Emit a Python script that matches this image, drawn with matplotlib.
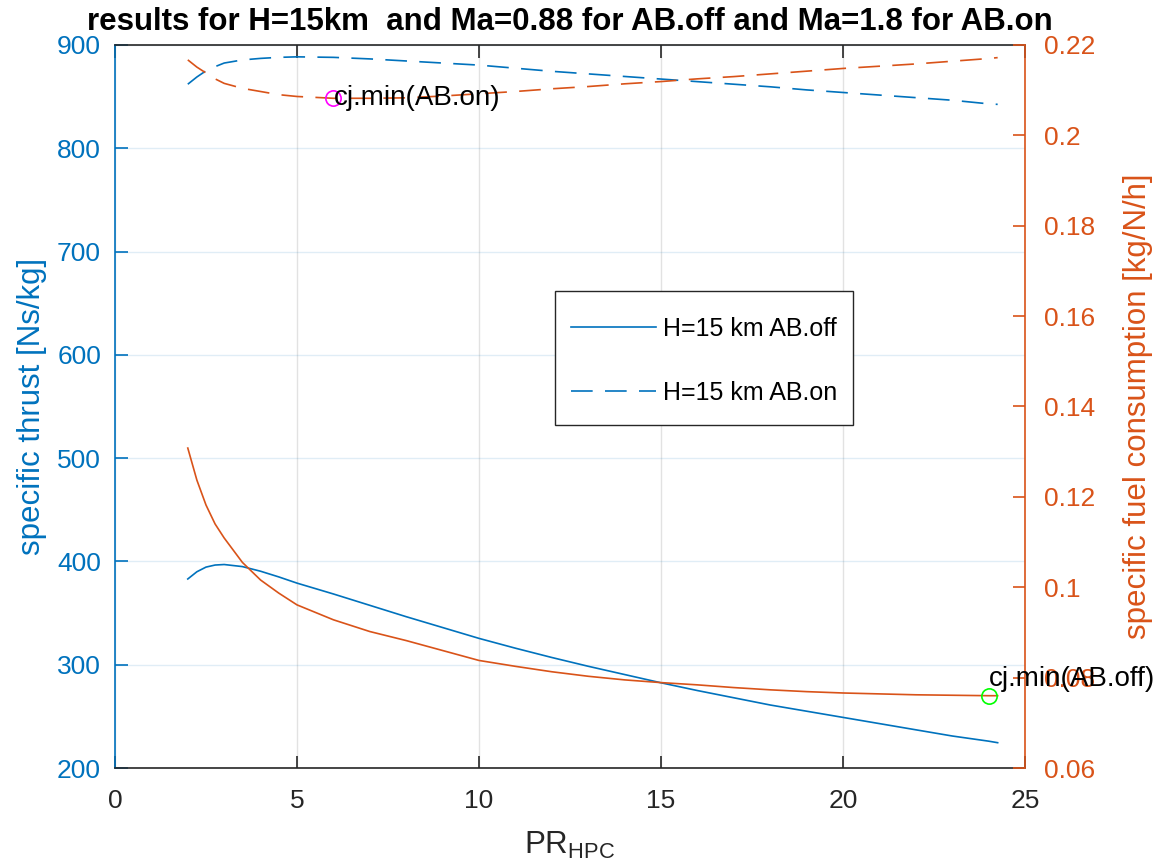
import matplotlib
matplotlib.use("Agg")
import matplotlib.pyplot as plt
from matplotlib.patches import Rectangle
import numpy as np

plt.rcParams['font.family'] = ['Liberation Sans', 'DejaVu Sans']
plt.rcParams['mathtext.fontset'] = 'custom'
plt.rcParams['mathtext.rm'] = 'Liberation Sans'

# pressure ratio of the HPC
pr_hpc = [2, 2.25, 2.5, 2.75, 3, 3.5, 4, 4.5, 5, 6, 7, 8, 9, 10, 11, 12, 13, 14,
          15, 16, 17, 18, 19, 20, 21, 22, 23, 24, 24.25]

# specific thrust [Ns/kg]
thrust_off = [383, 390, 394.5, 396.5, 397, 395, 390.5, 385, 379, 368.5, 357.5, 346.5,
              336, 325.5, 316, 307, 298.5, 290.5, 282.5, 275, 268, 261, 255, 249,
              243, 237, 231, 226, 224.5]
thrust_on = [862, 869, 875, 879, 882.5, 885.5, 887, 888, 888.5, 888, 886.5, 884.5,
             882.5, 880.5, 877.5, 874.5, 872, 869.5, 867, 864.5, 862, 859.5, 856.5,
             854, 851.5, 849, 846.5, 843, 842.5]

# specific fuel consumption [kg/N/h]
sfc_off = [0.1308, 0.1237, 0.1182, 0.1140, 0.1109, 0.1055, 0.1016, 0.0987, 0.0961,
           0.0928, 0.0902, 0.0882, 0.0860, 0.0838, 0.0825, 0.0813, 0.0803, 0.0795,
           0.0789, 0.0784, 0.0778, 0.0773, 0.0769, 0.0766, 0.0764, 0.0762, 0.0761,
           0.0760, 0.0760]
sfc_on = [0.2167, 0.2151, 0.2138, 0.2125, 0.2115, 0.2104, 0.2097, 0.2090, 0.2086,
          0.2082, 0.2082, 0.2083, 0.2087, 0.2092, 0.2097, 0.2103, 0.2108, 0.2114,
          0.2119, 0.2125, 0.2130, 0.2136, 0.2142, 0.2148, 0.2153, 0.2158, 0.2164,
          0.2170, 0.2172]

legend_labels = ['H=15 km AB.off', 'H=15 km AB.on']
title_text = 'results for H=15km  and Ma=0.88 for AB.off and Ma=1.8 for AB.on'

BLUE = '#0072BD'
ORANGE = '#D95319'
DARK = '#262626'
TFS = 19     # tick labels
LFS = 22.5   # axis labels

fig = plt.figure(figsize=(11.58, 8.68), dpi=100)
ax = fig.add_axes([0.0993, 0.1152, 0.7858, 0.833])
ax2 = ax.twinx()

dash = (0, (13, 7.4))
lw = 1.2
l1, = ax.plot(pr_hpc, thrust_off, color=BLUE, lw=lw, label=legend_labels[0])
l2, = ax.plot(pr_hpc, thrust_on, color=BLUE, lw=lw, ls=dash, label=legend_labels[1])
ax2.plot(pr_hpc, sfc_off, color=ORANGE, lw=lw)
ax2.plot(pr_hpc, sfc_on, color=ORANGE, lw=lw, ls=dash)

# minima markers
i_on = int(np.argmin(sfc_on[:12]))
i_off = 27
ax2.plot(pr_hpc[i_on], sfc_on[i_on], 'o', mfc='none', mec='#FF00FF', ms=11, mew=1.2)
ax2.plot(pr_hpc[i_off], sfc_off[i_off], 'o', mfc='none', mec='#00FF00', ms=11, mew=1.2)
ax2.text(pr_hpc[i_on], sfc_on[i_on], 'cj.min(AB.on)', fontsize=20, va='center', ha='left',
         color='black')
ax2.text(pr_hpc[i_off], sfc_off[i_off] + 0.0038, 'cj.min(AB.off)', fontsize=20,
         va='center', ha='left', color='black', clip_on=False)

ax.set_xlim(0, 25)
ax.set_ylim(200, 900)
ax2.set_ylim(0.06, 0.22)
ax.set_xticks(np.arange(0, 26, 5))
ax.set_yticks(np.arange(200, 901, 100))
ax2.set_yticks(np.arange(0.06, 0.2201, 0.02))
ax2.set_yticklabels(['0.06', '0.08', '0.1', '0.12', '0.14', '0.16', '0.18', '0.2', '0.22'])

ax.grid(True, axis='x', color=DARK, alpha=0.13, lw=1)
ax.grid(True, axis='y', color=BLUE, alpha=0.12, lw=1)
ax.set_axisbelow(True)

for s in ['top', 'bottom']:
    ax.spines[s].set_color(DARK)
    ax2.spines[s].set_visible(False)
ax.spines['left'].set_color(BLUE)
ax.spines['right'].set_visible(False)
ax2.spines['right'].set_color(ORANGE)
ax2.spines['left'].set_visible(False)
for sp in list(ax.spines.values()) + list(ax2.spines.values()):
    sp.set_linewidth(1.2)

ax.tick_params(axis='x', direction='in', length=9, width=1.2, colors=DARK,
               labelsize=TFS, top=True, pad=15)
ax.tick_params(axis='y', direction='in', length=9, width=1.2, colors=BLUE,
               labelsize=TFS, pad=10)
ax2.tick_params(axis='y', direction='in', length=9, width=1.2, colors=ORANGE,
                labelsize=TFS, pad=14)

ax.set_xlabel(r'PR$_{\mathregular{HPC}}$', fontsize=LFS, color=DARK)
ax.set_ylabel('specific thrust [Ns/kg]', fontsize=LFS, color=BLUE)
ax2.set_ylabel('specific fuel consumption [kg/N/h]', fontsize=LFS, color=ORANGE)
ax.xaxis.set_label_coords(0.5, -0.085)
ax.yaxis.set_label_coords(-0.075, 0.5)
ax2.yaxis.set_label_coords(1.108, 0.5)
ax.set_title(title_text, fontsize=22.5, fontweight='bold', color='black', pad=11)

# legend box (white frame) and legend entries
bx0, bx1 = 0.4835, 0.811
by0, by1 = 0.4744, 0.6598
ax2.add_patch(Rectangle((bx0, by0), bx1 - bx0, by1 - by0, transform=ax2.transAxes,
                        facecolor='white', edgecolor=DARK, lw=1.0, zorder=4))
leg = ax2.legend(handles=[l1, l2], loc='center',
                 bbox_to_anchor=((bx0 + bx1) / 2, (by0 + by1) / 2 - 0.004),
                 fontsize=18, frameon=False, handlelength=3.4, labelspacing=1.6,
                 borderpad=0.0, handletextpad=0.3, borderaxespad=0)
leg.set_zorder(5)
for t in leg.get_texts():
    t.set_color('black')

fig.savefig('out.png', dpi=100)
